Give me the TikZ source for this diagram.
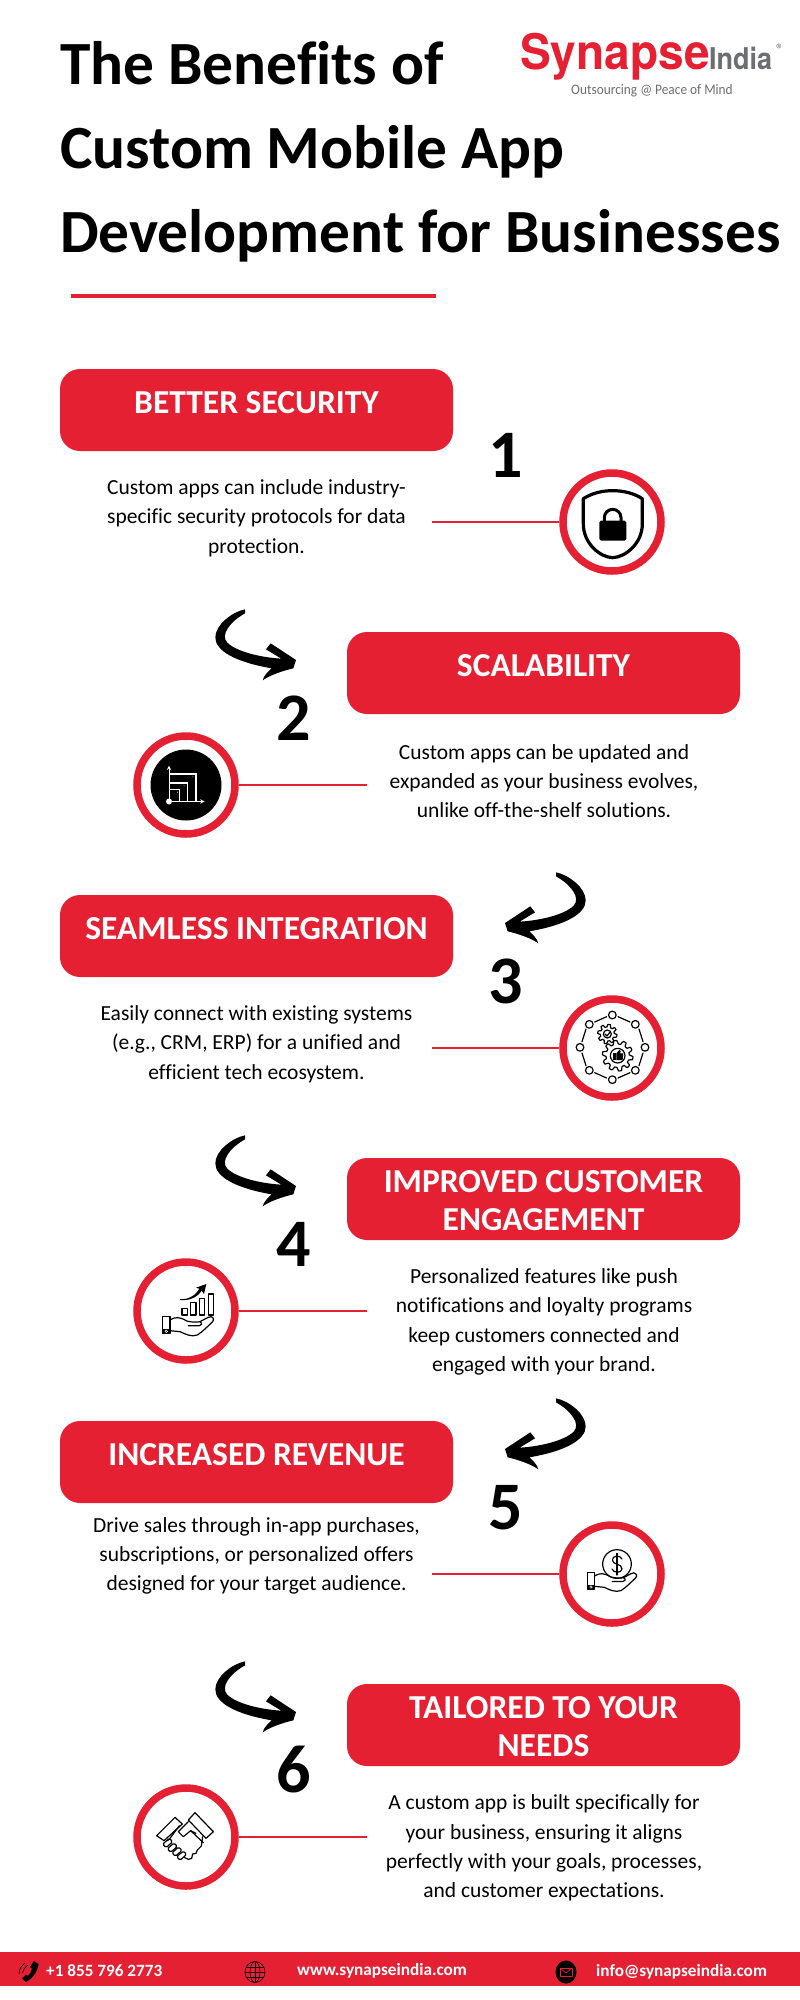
\documentclass[tikz,border=0pt]{standalone}
\usepackage{fontspec}
\setmainfont[Ligatures=NoCommon]{Carlito}
\newfontfamily\logofont{TeX Gyre Heros}
\definecolor{brandred}{HTML}{E42032}
\definecolor{logogray}{HTML}{6D6E71}
\newcommand{\brushpath}{(375,28) .. controls (335,36) and (286,75) .. (286,112)
 .. controls (286,152) and (345,186) .. (455,205)
 .. controls (445,215) and (432,225) .. (428,241)
 .. controls (450,225) and (490,212) .. (520,205)
 -- (528,180) -- (452,130) -- (438,148) -- (484,176)
 .. controls (420,172) and (350,155) .. (322,128)
 .. controls (300,105) and (330,65) .. (375,40) -- cycle}
\newcommand{\handicon}{%
 \draw[icon] (128,590) rectangle (150,640);
 \fill (130,628) rectangle (148,640);
 \draw[white,line width=.5pt] (139,634) circle (4);
 \draw[icon,line join=round] (150,600) .. controls (165,590) and (180,590) .. (200,603)
  .. controls (215,607) and (232,607) .. (240,605) .. controls (250,600) and (262,592) .. (272,590)
  .. controls (280,590) and (284,600) .. (276,607) .. controls (262,620) and (248,635) .. (232,645)
  .. controls (215,652) and (195,642) .. (180,635) -- (150,632);
 \draw[icon] (205,617) -- (238,617) .. controls (245,617) and (248,610) .. (240,605);}
\newcommand{\gearicon}[5]{\draw[icon,shift={(#1,#2)}] plot[domain=0:360,samples=97,variable=\t]
  (\t:{(#3+#4)/2+(#3-#4)/2*min(1,max(-1,2.5*sin(#5*\t)))}) -- cycle;}
\tikzset{
 x=1pt,y=-1pt,
 icon/.style={line width=1.2pt,draw=black,line cap=round,line join=round},
 titletext/.style={anchor=base west,inner sep=0pt,font=\fontsize{61.4}{61.4}\selectfont\bfseries},
 headbox/.style={fill=brandred,rounded corners=20pt,minimum width=393pt,minimum height=82pt,inner sep=0pt},
 headtext/.style={inner sep=0pt,text=white,align=center,font=\fontsize{33.5}{38.5}\selectfont\bfseries},
 bodytext/.style={inner sep=0pt,align=center,font=\fontsize{21.5}{29.3}\selectfont},
 ring/.style={circle,draw=brandred,line width=7.5pt,minimum size=98pt,inner sep=0pt},
 stem/.style={draw=brandred,line width=2pt},
 numeral/.style={anchor=base,inner sep=0pt,font=\fontsize{68}{68}\selectfont\bfseries},
 foottext/.style={anchor=base west,inner sep=0pt,text=white,font=\fontsize{17.2}{20}\selectfont\bfseries},
}
\begin{document}
\begin{tikzpicture}
\useasboundingbox (0,0) rectangle (800,2000);
\fill[white] (0,0) rectangle (800,2000);
% title
\node[titletext] (t1) at (60,84.5) {The Benefits of};
\node[titletext] (t2) at (60,168.5) {Custom Mobile App};
\node[titletext] (t3) at (60,252.5) {Development for Businesses};
\coordinate (ua) at (71,296); \coordinate (ub) at (436,296);
\draw[brandred,line width=4pt] (ua) -- (ub);
% logo
\node[anchor=base west,inner sep=0pt,text=brandred,xscale=.94,font=\logofont\fontsize{49}{49}\selectfont\bfseries] (lg1) at (520,69) {Synapse};
\node[anchor=base west,inner sep=0pt,text=logogray,xscale=.9,font=\logofont\fontsize{30}{30}\selectfont\bfseries] (lg2) at (709,69) {India};
\node[inner sep=0pt,text=logogray,font=\fontsize{15}{15}\selectfont] (lg3) at (780,49) {®};
\node[inner sep=0pt,text=logogray,xscale=.92,font=\fontsize{14.5}{14.5}\selectfont] (lg4) at (652,91) {Outsourcing @ Peace of Mind};
% boxes
\node[headbox] (b1) at (256.5,410) {};
\node[headbox] (b2) at (543.5,673) {};
\node[headbox] (b3) at (256.5,936) {};
\node[headbox] (b4) at (543.5,1199) {};
\node[headbox] (b5) at (256.5,1462) {};
\node[headbox] (b6) at (543.5,1725) {};
\node[headtext] (h1) at (256.5,402.5) {BETTER SECURITY};
\node[headtext] (h2) at (543.5,665.5) {SCALABILITY};
\node[headtext] (h3) at (256.5,928.5) {SEAMLESS INTEGRATION};
\node[headtext] (h4) at (543.5,1200.5) {IMPROVED CUSTOMER\\ENGAGEMENT};
\node[headtext] (h5) at (256.5,1454.5) {INCREASED REVENUE};
\node[headtext] (h6) at (543.5,1726.5) {TAILORED TO YOUR\\NEEDS};
% body
\node[bodytext] (d1) at (256.5,518) {Custom apps can include industry-\\specific security protocols for data\\protection.};
\node[bodytext] (d2) at (544,781) {Custom apps can be updated and\\expanded as your business evolves,\\unlike off-the-shelf solutions.};
\node[bodytext] (d3) at (256.5,1044) {Easily connect with existing systems\\(e.g., CRM, ERP) for a unified and\\efficient tech ecosystem.};
\node[bodytext] (d4) at (544,1322) {Personalized features like push\\notifications and loyalty programs\\keep customers connected and\\engaged with your brand.};
\node[bodytext] (d5) at (256.5,1556) {Drive sales through in-app purchases,\\subscriptions, or personalized offers\\designed for your target audience.};
\node[bodytext] (d6) at (544,1848) {A custom app is built specifically for\\your business, ensuring it aligns\\perfectly with your goals, processes,\\and customer expectations.};
% numbers
\node[numeral] (n1) at (506,477) {1};
\node[numeral] (n2) at (294,740) {2};
\node[numeral] (n3) at (506,1003) {3};
\node[numeral] (n4) at (294,1266) {4};
\node[numeral] (n5) at (506,1529) {5};
\node[numeral] (n6) at (294,1792) {6};
% rings and connectors
\node[ring] (c1) at (612,522) {};
\node[ring] (c2) at (186,785) {};
\node[ring] (c3) at (612,1048) {};
\node[ring] (c4) at (186,1311) {};
\node[ring] (c5) at (612,1574) {};
\node[ring] (c6) at (186,1837) {};
\foreach \i/\x/\y in {1/432/522,3/432/1048,5/432/1574}{
  \coordinate (e\i) at (\x,\y); \draw[stem] (e\i) -- (c\i);}
\foreach \i/\x/\y in {2/367/785,4/367/1311,6/367/1837}{
  \coordinate (e\i) at (\x,\y); \draw[stem] (e\i) -- (c\i);}
% brush arrows
\foreach \dy in {0,526,1052}{
  \fill[shift={(120,600+\dy)},scale=.33333] \brushpath;
}
\foreach \dy in {0,526}{
  \fill[shift={(681,863+\dy)},xscale=-.33333,yscale=.33333] \brushpath;
}
% icon 1: shield and lock
\begin{scope}[shift={(540,450)},scale=.33333]
 \draw[line width=3.2pt,line join=round] (218,122) .. controls (185,122) and (155,130) .. (130,146)
   -- (130,222) .. controls (130,280) and (180,322) .. (218,323)
   .. controls (256,322) and (307,280) .. (307,222) -- (307,146)
   .. controls (282,130) and (251,122) .. (218,122) -- cycle;
 \fill[rounded corners=1.7pt] (178,212) rectangle (259,272);
 \draw[line width=3pt] (193,215) -- (193,203) arc[start angle=180,end angle=360,radius=25] -- (243,215);
\end{scope}
% icon 2: scalability
\fill (c2) circle (35.5);
\begin{scope}[shift={(120,600.5)},scale=.33333,white]
 \draw[line width=1pt,->,>=stealth] (147,603) -- (147,495);
 \draw[line width=1pt,->,>=stealth] (147,603) -- (254,603);
 \fill (147,516) rectangle (232,523);
 \fill (224,516) rectangle (232,603);
 \fill (147,545) rectangle (205,550);
 \fill (200,545) rectangle (205,603);
 \fill (147,565) rectangle (181,569);
 \fill (177,565) rectangle (181,603);
 \fill (147,603) circle (9);
 \fill (219,529) circle (1.5);
 \fill (192,556) circle (1.5);
 \fill (172,575) circle (1.5);
\end{scope}
% icon 3: gears and ring of nodes
\begin{scope}[shift={(480,850)},scale=.33333]
 \foreach \px/\py in {397/495,466/523,495/592,466/661,397/689,328/661,300/592,328/523}
   \draw[icon] (\px,\py) circle (11.5);
 \foreach \ax/\ay/\bx/\by in {414/500/450/516,477/537/489/575,489/609/477/647,450/668/414/684,380/684/344/668,318/647/306/609,306/575/318/537,344/516/380/500}
   \draw[icon] (\ax,\ay) -- (\bx,\by);
 \gearicon{382}{552}{29}{21}{8}
 \gearicon{413}{617}{46}{35}{10}
 \draw[icon] (382,552) circle (12);
 \draw[icon] (375,552) -- (381,558) -- (390,546);
 \draw[icon] (413,617) circle (22);
 \fill (398,610) rectangle (407,630);
 \fill (409,610) -- (418,600) -- (422,602) -- (421,610) -- (430,610) -- (428,630) -- (409,630) -- cycle;
\end{scope}
% icon 4: hand with bars
\begin{scope}[shift={(120,1120)},scale=.33333]
 \foreach \xa/\ya/\xb in {186/565/202,212/548/228,238/535/254,265/522/280}
   \draw[icon] (\xa,\ya) rectangle (\xb,585);
 \fill (180,537) .. controls (205,540) and (228,525) .. (238,506) -- (228,503) -- (259,492) -- (252,522) -- (245,512)
   .. controls (232,532) and (208,543) .. (180,540) -- cycle;
 \handicon
\end{scope}
% icon 5: hand with coin
\begin{scope}[shift={(546,1382)},scale=.32333]
 \handicon
\end{scope}
\begin{scope}[shift={(540,1500)},scale=.33333]
 \draw[icon] (231,192) circle (43);
 \draw[icon] (246,177) .. controls (242,165) and (217,165) .. (217,180)
   .. controls (217,195) and (246,190) .. (246,206) .. controls (246,220) and (220,220) .. (216,207);
 \draw[icon] (231,160) -- (231,225);
\end{scope}
% icon 6: handshake
\begin{scope}[shift={(120,1770)},scale=.33333]
 \draw[icon] (110,197) -- (165,142) -- (187,162) -- (132,212) -- cycle;
 \draw[icon] (205,150) -- (225,128) -- (280,185) -- (258,205) -- cycle;
 \draw[icon] (205,155) -- (175,185) -- (190,200) -- (212,182) -- (250,218);
 \draw[icon] (178,167) -- (150,205) -- (143,212);
 \draw[icon] (248,200) -- (244,228) -- (232,240) -- (228,250) -- (218,252) -- (215,265) -- (205,268) -- (192,262);
 \foreach \u/\v in {0/0,14/14,28/26,42/38}
   \draw[icon,rounded corners=1.5pt] (128+\u,222+\v) -- (148+\u,205+\v) -- (158+\u,215+\v) -- (138+\u,233+\v) -- cycle;
 \draw[icon] (212,182) -- (228,190);
\end{scope}
% footer
\fill[brandred] (0,1952) rectangle (800,1986);
\node[foottext] (f1) at (46,1976) {+1 855 796 2773};
\node[foottext] (f2) at (297,1975) {www.synapseindia.com};
\node[foottext] (f3) at (596,1976) {info@synapseindia.com};
\fill (34,1961) -- (38.5,1964) .. controls (38,1971) and (32,1979) .. (26,1982) -- (22,1978.5) -- (26,1974.5) -- (28,1976) .. controls (30,1974) and (31.5,1971) .. (32,1968.5) -- (30,1967) -- cycle;
\draw[line width=.6pt] (25,1963) .. controls (21,1966) and (19,1970) .. (19,1974);
\draw[line width=.6pt] (28,1965) .. controls (25,1967) and (23,1970) .. (22.5,1973);
\draw[line width=.5pt] (255,1972) ellipse (10 and 10.5);
\draw[line width=.5pt] (255,1972) ellipse (5 and 10.5);
\draw[line width=.5pt] (255,1961.5) -- (255,1982.5);
\draw[line width=.5pt] (245,1972) -- (265,1972);
\draw[line width=.5pt] (246,1967) -- (264,1967);
\draw[line width=.5pt] (246,1977) -- (264,1977);
\fill (566,1972) ellipse (10.5 and 11.5);
\draw[brandred,line width=.7pt,line join=round] (560,1968) rectangle (572,1976);
\draw[brandred,line width=.7pt,line join=round] (560,1968) -- (566,1973) -- (572,1968);
\end{tikzpicture}
\end{document}
